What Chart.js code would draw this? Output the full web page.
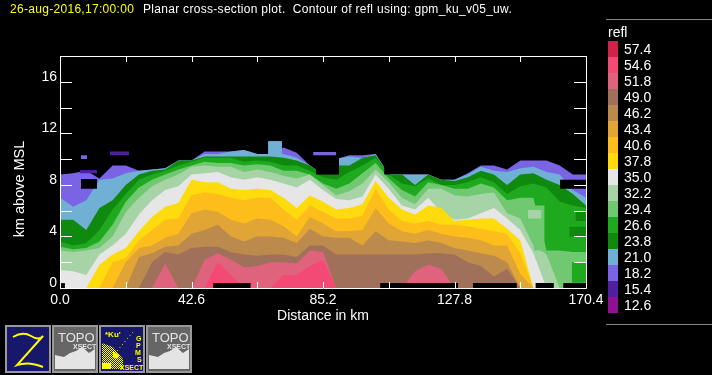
<!DOCTYPE html>
<html>
<head>
<meta charset="utf-8">
<title>Planar cross-section plot</title>
<script src="https://cdn.jsdelivr.net/npm/chart.js@4/dist/chart.umd.min.js"></script>
<style>
  html, body { margin: 0; background: #000; }
  body { position: relative; width: 712px; height: 375px; overflow: hidden; font-family: "Liberation Sans", sans-serif; color: #fff; }
  canvas { position: absolute; left: 0; top: 0; }
  .txt { position: absolute; white-space: pre; line-height: 14px; }
  .head { top: 2px; font-size: 12px; letter-spacing: 0.3px; }
  .rule { position: absolute; left: 606px; width: 106px; height: 1px; background: #888; }
  .swatch { position: absolute; left: 608px; width: 10px; height: 16px; }
  svg { position: absolute; top: 325px; }
</style>
</head>
<body>
<canvas id="xsect-chart" width="712" height="375"></canvas>
<div class="txt head" style="left:10px;color:#ff0">26-aug-2016,17:00:00</div>
<div class="txt head" style="left:143px">Planar cross-section plot.  Contour of refl using: gpm_ku_v05_uw.</div>
<div class="rule" style="top:19px"></div>
<div class="rule" style="top:324px"></div>
<div class="txt" style="left:608px;top:25px;font-size:14px">refl</div>
<div id="color-key"></div>

<svg style="left:5px" width="46" height="48">
  <rect x="1" y="1" width="44" height="46" fill="#17176b" stroke="#999" stroke-width="2"/>
  <path d="M8 12 Q18 6 26 11 T38 11 L12 40 Q24 36 38 42" fill="none" stroke="#ff0" stroke-width="2"/>
</svg>
<svg style="left:52px" width="46" height="48">
  <rect x="1" y="1" width="44" height="46" fill="#666" stroke="#999" stroke-width="2"/>
  <text x="6" y="17" font-size="13" fill="#e4e4e4">TOPO</text>
  <text x="21" y="24" font-size="7" font-weight="bold" fill="#e4e4e4">XSECT</text>
  <path d="M3 44 V30 L12 32 L18 28 L24 26 L30 22 L37 28 L43 24 V44 Z" fill="#e4e4e4"/>
</svg>
<svg style="left:99px" width="46" height="48">
  <defs><pattern id="dots" width="2" height="2" patternUnits="userSpaceOnUse"><rect width="1" height="1" fill="#ff0"/><rect x="1" y="1" width="1" height="1" fill="#ff0"/></pattern></defs>
  <rect x="1" y="1" width="44" height="46" fill="#17176b" stroke="#999" stroke-width="2"/>
  <text x="6" y="12" font-size="8" font-weight="bold" fill="#ff0">*Ku'</text>
  <path d="M3 44 V18 L14 22 L24 34 V44 Z" fill="url(#dots)"/>
  <path d="M3 44 V38 H12 V44 Z M14 26 L20 30 L18 34 L14 32 Z" fill="#ff0"/>
  <path d="M18 26 L34 7" stroke="#ff0" stroke-width="1" stroke-dasharray="1 3"/>
  <text x="37" y="16" font-size="7" font-weight="bold" fill="#ff0">G</text>
  <text x="37" y="23" font-size="7" font-weight="bold" fill="#ff0">P</text>
  <text x="36" y="30" font-size="7" font-weight="bold" fill="#ff0">M</text>
  <text x="38" y="37" font-size="7" font-weight="bold" fill="#ff0">S</text>
  <text x="21" y="45" font-size="7" font-weight="bold" fill="#ff0">XSECT</text>
</svg>
<svg style="left:146px" width="46" height="48">
  <rect x="1" y="1" width="44" height="46" fill="#666" stroke="#999" stroke-width="2"/>
  <text x="6" y="17" font-size="13" fill="#e4e4e4">TOPO</text>
  <text x="21" y="24" font-size="7" font-weight="bold" fill="#e4e4e4">XSECT</text>
  <path d="M3 44 V30 L12 32 L18 28 L24 26 L30 22 L37 28 L43 24 V44 Z" fill="#e4e4e4"/>
</svg>

<script>
// color key, top to bottom
const keyLabels = ['57.4', '54.6', '51.8', '49.0', '46.2', '43.4', '40.6', '37.8', '35.0', '32.2', '29.4', '26.6', '23.8', '21.0', '18.2', '15.4', '12.6'];
const keyColors = ['#d0234a', '#f34a75', '#e0637d', '#a0705a', '#bc8a4c', '#e0a535', '#fdbd1a', '#fddb0c', '#e6e6e6', '#a6d4a6', '#70c870', '#1fa91f', '#0f8a0f', '#70b0d4', '#7b63e6', '#4f1fa0', '#8f1090'];

const xTicks = [0, 21.3, 42.6, 63.9, 85.2, 106.5, 127.8, 149.1, 170.4];
const xLabels = [0, 42.6, 85.2, 127.8, 170.4];
const yTicks = [0, 2, 4, 6, 8, 10, 12, 14, 16, 18];
const yLabels = [0, 4, 8, 12, 16];

// distance along the section, km
const distances = [0, 4.26, 8.52, 12.78, 17.04, 21.3, 25.56, 29.82, 34.08, 38.34, 42.6, 46.86, 51.12, 55.38, 59.64, 63.9, 68.16, 72.42, 76.68, 80.94, 85.2, 89.46, 93.72, 97.98, 102.24, 106.5, 110.76, 115.02, 119.28, 123.54, 127.8, 132.06, 136.32, 140.58, 144.84, 149.1, 153.36, 157.62, 161.88, 166.14, 170.4];

// height (km) reached by each reflectivity level at every distance
const top18 = [8.8, 8.9, 9.1, 8.5, 9.5, 9.5, 9.1, 9.2, 9.3, 9.9, 9.9, 10.6, 10.6, 10.6, 10.7, 10.4, 10.4, 10.9, 10.5, 9.5, 8.8, 10.0, 10.3, 10.3, 10.4, 8.8, 8.8, 8.8, 8.8, 8.4, 8.4, 8.9, 9.5, 9.5, 9.2, 9.9, 9.9, 9.9, 9.5, 8.8, 8.8];
const top21 = [7.0, 6.3, 6.8, 8.4, 8.5, 8.9, 9.1, 9.2, 9.3, 9.9, 9.9, 10.4, 10.4, 10.6, 10.7, 10.4, 10.4, 10.4, 10.1, 9.5, 8.8, 10.0, 10.2, 10.1, 10.4, 8.8, 8.8, 8.8, 8.8, 8.4, 8.4, 8.8, 9.4, 9.1, 9.0, 9.3, 9.4, 9.0, 8.8, 7.6, 7.0];
const top24 = [5.3, 5.3, 4.5, 6.2, 6.8, 8.0, 8.8, 9.1, 9.2, 9.9, 9.9, 10.2, 10.2, 10.2, 10.2, 10.2, 10.2, 10.1, 9.9, 9.5, 8.8, 9.5, 9.5, 10.1, 10.3, 8.8, 8.8, 8.0, 8.8, 8.4, 8.3, 8.6, 9.1, 8.8, 8.0, 8.8, 8.9, 8.4, 8.0, 7.3, 6.4];
const top27 = [3.6, 3.3, 3.5, 4.5, 6.1, 7.3, 8.4, 8.8, 9.1, 9.5, 9.8, 10.1, 10.1, 10.1, 9.8, 9.9, 9.8, 9.5, 9.5, 9.1, 8.6, 8.4, 9.0, 9.5, 10.1, 8.8, 8.1, 7.9, 8.5, 8.0, 8.0, 8.2, 8.6, 8.2, 7.3, 7.9, 8.1, 7.8, 6.7, 6.4, 6.2];
const top29 = [3.2, 3.0, 3.1, 3.6, 4.9, 6.7, 7.8, 8.4, 8.8, 9.2, 9.5, 9.8, 9.7, 9.7, 9.5, 9.6, 9.5, 9.1, 9.1, 8.8, 8.1, 7.7, 8.1, 8.9, 9.7, 8.5, 7.6, 7.1, 8.2, 8.0, 7.7, 7.7, 8.1, 7.8, 6.8, 7.0, 7.0, 2.9, 2.9, 2.8, 2.8];
const top32 = [2.9, 2.8, 2.9, 3.1, 4.0, 5.9, 7.0, 7.9, 8.4, 8.8, 9.4, 9.5, 9.4, 9.4, 9.0, 9.2, 9.0, 8.7, 8.5, 8.8, 8.0, 7.2, 7.5, 8.1, 9.2, 8.2, 7.0, 6.5, 7.7, 7.7, 7.2, 7.1, 7.3, 7.4, 5.8, 5.4, 3.3, 2.6, 0, 0, 0];
const top35 = [1.4, 1.3, 1.0, 2.6, 3.3, 4.2, 5.7, 6.8, 7.6, 7.9, 8.8, 8.9, 9.0, 8.6, 8.4, 8.6, 8.4, 8.1, 7.8, 8.4, 7.6, 6.9, 6.8, 7.1, 8.8, 7.7, 6.4, 6.1, 7.0, 5.9, 5.3, 5.4, 5.8, 6.2, 5.4, 4.5, 2.7, 0, 0, 0, 0];
const top38 = [0, 0, 0, 1.8, 2.6, 3.1, 4.4, 5.5, 6.3, 6.6, 8.4, 8.2, 8.2, 7.7, 7.6, 7.7, 7.6, 7.0, 6.2, 7.2, 6.7, 6.1, 6.2, 6.5, 8.3, 7.0, 6.1, 5.7, 6.4, 6.2, 5.2, 5.3, 5.4, 5.4, 4.6, 3.7, 0, 0, 0, 0, 0];
const top41 = [0, 0, 0, 0, 2.0, 2.3, 3.7, 4.5, 5.3, 5.4, 7.2, 7.4, 7.3, 7.0, 6.8, 7.0, 7.0, 6.1, 5.3, 6.4, 5.9, 5.4, 5.4, 5.6, 7.7, 6.1, 5.2, 5.0, 5.2, 4.9, 4.9, 4.8, 4.6, 4.4, 4.2, 2.7, 0, 0, 0, 0, 0];
const top43 = [0, 0, 0, 0, 0, 2.0, 3.1, 3.3, 3.9, 4.2, 5.8, 6.1, 5.9, 5.3, 5.0, 5.4, 5.3, 4.8, 4.0, 5.5, 5.0, 4.4, 4.4, 4.5, 6.2, 5.0, 4.4, 4.2, 4.5, 4.2, 4.0, 3.9, 3.7, 3.3, 3.3, 1.1, 0, 0, 0, 0, 0];
const top46 = [0, 0, 0, 0, 0, 0, 2.4, 2.7, 3.2, 3.3, 4.2, 4.5, 4.9, 4.0, 3.6, 4.0, 4.0, 3.9, 3.5, 4.6, 4.0, 3.9, 3.9, 3.3, 4.4, 3.7, 3.6, 3.5, 3.7, 3.5, 3.1, 2.9, 2.7, 2.5, 2.0, 0, 0, 0, 0, 0, 0];
const top49 = [0, 0, 0, 0, 0, 0, 0, 2.0, 2.8, 2.6, 3.1, 3.2, 3.2, 2.8, 2.6, 2.5, 2.6, 2.6, 2.4, 3.3, 3.3, 2.6, 2.6, 2.6, 2.6, 2.6, 2.6, 2.6, 2.7, 2.7, 2.6, 2.0, 1.7, 0.9, 1.5, 0, 0, 0, 0, 0, 0];
const top52 = [0, 0, 0, 0, 0, 0, 0, 0, 1.9, 0, 0, 2.2, 2.7, 2.2, 1.6, 1.7, 2.0, 2.0, 1.9, 2.9, 2.8, 0, 0, 0, 0, 0, 0, 1.3, 1.8, 1.5, 0, 0, 0, 0, 0, 0, 0, 0, 0, 0, 0];
const top55 = [0, 0, 0, 0, 0, 0, 0, 0, 0, 0, 0, 0, 2.0, 1.0, 0, 0, 0, 1.0, 1.0, 1.7, 2.2, 0, 0, 0, 0, 0, 0, 0, 0, 0, 0, 0, 0, 0, 0, 0, 0, 0, 0, 0, 0];

// small cells that do not nest inside the levels above: [distance from, to, height from, to]
const holeLeft = [6.8, 12, 7.7, 8.45];
const holeRight = [162, 170.4, 7.7, 8.4];
const holeMiddle = [82.9, 90.4, 8.8, 10.4];
const holeCut = [105, 107, 8.8, 10.6];
const sliver18a = [6.8, 8.8, 10.0, 10.3];
const sliver18b = [82, 89.5, 10.3, 10.55];
const sliver15a = [16.2, 22.4, 10.3, 10.6];
const sliver15b = [6.5, 12, 8.9, 9.15];
const bump21 = [67.4, 71.9, 10.3, 11.4];
const cell24a = [167, 170.4, 5.2, 5.9];
const cell24b = [165, 170.4, 4.0, 4.75];
const cell27 = [165.8, 170.4, 0.4, 2.0];
const cell29 = [153.4, 157, 2.9, 6.4];
const cell32 = [151.6, 156, 5.4, 6.05];
// stretches where the lowest gates are empty
const emptyLow = [[0.3, 1.6], [49.6, 61.8], [103.7, 129], [133.8, 148], [154, 160], [163, 170.4]];
const emptyLowTop = 0.38;

const levelTop = (heights, color) => ({
  data: distances.map((x, i) => ({ x, y: heights[i] })),
  backgroundColor: color,
  fill: 'origin',
});

const cell = ([x0, x1, y0, y1], color) => [
  { data: [{ x: x0, y: y1 }, { x: x1, y: y1 }], backgroundColor: color, fill: '-1' },
  { data: [{ x: x0, y: y0 }, { x: x1, y: y0 }], backgroundColor: color, fill: false },
];

const paintOrder = [
  levelTop(top18, keyColors[14]),
  levelTop(top21, keyColors[13]),
  levelTop(top24, keyColors[12]),
  levelTop(top27, keyColors[11]),
  levelTop(top29, keyColors[10]),
  levelTop(top32, keyColors[9]),
  levelTop(top35, keyColors[8]),
  levelTop(top38, keyColors[7]),
  levelTop(top41, keyColors[6]),
  levelTop(top43, keyColors[5]),
  levelTop(top46, keyColors[4]),
  levelTop(top49, keyColors[3]),
  levelTop(top52, keyColors[2]),
  levelTop(top55, keyColors[1]),
  ...cell(holeLeft, '#000'),
  ...cell(holeRight, '#000'),
  ...cell(holeMiddle, '#000'),
  ...cell(holeCut, '#000'),
  ...cell(sliver18a, keyColors[14]),
  ...cell(sliver18b, keyColors[14]),
  ...cell(sliver15a, keyColors[15]),
  ...cell(sliver15b, keyColors[15]),
  ...cell(bump21, keyColors[13]),
  ...cell(cell24a, keyColors[12]),
  ...cell(cell24b, keyColors[12]),
  ...cell(cell27, keyColors[11]),
  ...cell(cell29, keyColors[10]),
  ...cell(cell32, keyColors[9]),
  ...emptyLow.flatMap(([x0, x1]) => cell([x0, x1, 0, emptyLowTop], '#000')),
];

// box round the plot, with ticks pointing inwards on all four sides
const plotFrame = {
  id: 'plotFrame',
  afterDatasetsDraw(chart) {
    const { ctx, chartArea: { left, right, top, bottom }, scales: { x, y } } = chart;
    ctx.save();
    ctx.strokeStyle = '#fff';
    ctx.lineWidth = 1;
    ctx.beginPath();
    ctx.rect(left + 0.5, top + 0.5, right - left, bottom - top);
    xTicks.forEach((v) => {
      const px = Math.round(x.getPixelForValue(v)) + 0.5;
      ctx.moveTo(px, top);
      ctx.lineTo(px, top + 6);
      ctx.moveTo(px, bottom);
      ctx.lineTo(px, bottom - 6);
    });
    yTicks.forEach((v) => {
      const py = Math.round(y.getPixelForValue(v)) + 0.5;
      ctx.moveTo(left, py);
      ctx.lineTo(left + 12, py);
      ctx.moveTo(right, py);
      ctx.lineTo(right - 12, py);
    });
    ctx.stroke();
    // the axis title sits below the middle of the axis in the original
    ctx.translate(20, 189);
    ctx.rotate(-Math.PI / 2);
    ctx.fillStyle = '#fff';
    ctx.font = '14.5px "Liberation Sans"';
    ctx.textAlign = 'center';
    ctx.textBaseline = 'middle';
    ctx.fillText('km above MSL', 0, 0);
    ctx.restore();
  },
};

const colorKey = document.getElementById('color-key');
keyLabels.forEach((label, i) => {
  const y = 41 + i * 16;
  colorKey.insertAdjacentHTML('beforeend',
    `<div class="swatch" style="top:${y}px;background:${keyColors[i]}"></div>`
    + `<div class="txt" style="left:624px;top:${y + 1}px;font-size:14px">${label}</div>`);
});

/* global Chart */
(() => new Chart(document.getElementById('xsect-chart').getContext('2d'), {
  type: 'line',
  data: { datasets: paintOrder.reverse() },
  plugins: [plotFrame],
  options: {
    responsive: false,
    animation: false,
    layout: { padding: { left: 0, top: 56, right: 126, bottom: 0 } },
    elements: { line: { borderWidth: 0, tension: 0 }, point: { radius: 0 } },
    plugins: { legend: { display: false }, tooltip: { enabled: false } },
    scales: {
      x: {
        type: 'linear',
        min: 0,
        max: 170.4,
        grid: { display: false, drawTicks: false },
        border: { display: false },
        afterFit: (scale) => { scale.height = 87; },
        afterBuildTicks: (scale) => { scale.ticks = xTicks.map((value) => ({ value })); },
        ticks: {
          color: '#fff',
          padding: 4,
          autoSkip: false,
          maxRotation: 0,
          font: { family: 'Liberation Sans', size: 14 },
          callback: (v) => (xLabels.includes(v) ? v.toFixed(1) : ''),
        },
        title: {
          display: true,
          text: 'Distance in km',
          color: '#fff',
          font: { family: 'Liberation Sans', size: 14 },
          padding: { top: 0, bottom: 50 },
        },
      },
      y: {
        min: 0,
        max: 18,
        grid: { display: false, drawTicks: false },
        border: { display: false },
        afterFit: (scale) => { scale.width = 60; },
        afterBuildTicks: (scale) => { scale.ticks = yTicks.map((value) => ({ value })); },
        ticks: {
          color: '#fff',
          padding: 3,
          autoSkip: false,
          labelOffset: -5,
          font: { family: 'Liberation Sans', size: 14 },
          callback: (v) => (yLabels.includes(v) ? String(v) : ''),
        },
      },
    },
  },
}))();
</script>
</body>
</html>
